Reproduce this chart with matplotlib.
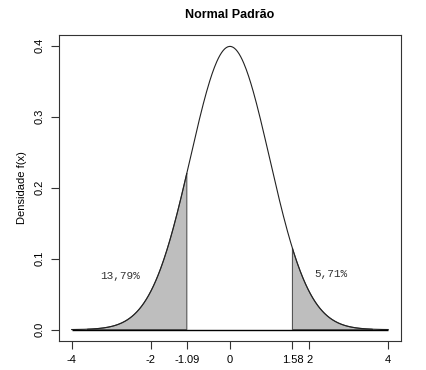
import numpy as np
import matplotlib
matplotlib.use('Agg')
import matplotlib.pyplot as plt

# cut points and tail areas
a_left = -1.09
a_right = 1.58
txt_left = '13,79%'
txt_right = '5,71%'
xticks = [-4, -2, -1.09, 0, 1.58, 2, 4]
xtick_labels = ['-4', '-2', '-1.09', '0', '1.58', '2', '4']
yticks = [0.0, 0.1, 0.2, 0.3, 0.4]


def dnorm(x):
    return np.exp(-x ** 2 / 2) / np.sqrt(2 * np.pi)


plt.rcParams['font.family'] = ['Liberation Sans', 'DejaVu Sans']

fig = plt.figure(figsize=(4.26, 3.70), dpi=100)
ax = fig.add_axes([0.1385, 0.0784, 0.8025, 0.827])

x = np.linspace(-4, 4, 400)
ax.plot(x, dnorm(x), color='#222222', lw=0.8, zorder=3)

# shaded tails
xl = np.linspace(-3.6, a_left, 200)
ax.fill(np.r_[xl, a_left, -3.6], np.r_[dnorm(xl), 0, 0],
        facecolor='#bebebe', edgecolor='#555555', lw=0.8, zorder=2)
xr = np.linspace(a_right, 3.6, 200)
ax.fill(np.r_[a_right, xr, 3.6], np.r_[0, dnorm(xr), 0],
        facecolor='#bebebe', edgecolor='#555555', lw=0.8, zorder=2)

ax.hlines(0, -4, 4, color='black', lw=1.0, zorder=4)

ax.text(-2.78, 0.075, txt_left, family='Liberation Mono', fontsize=8,
        color='#333333', ha='center', va='center')
ax.text(2.55, 0.078, txt_right, family='Liberation Mono', fontsize=8,
        color='#333333', ha='center', va='center')

ax.set_xlim(-4.32, 4.32)
ax.set_ylim(-0.016, 0.415)
ax.set_xticks(xticks)
ax.set_xticklabels(xtick_labels, fontsize=8)
ax.set_yticks(yticks)
ax.set_yticklabels(['0.0', '0.1', '0.2', '0.3', '0.4'], fontsize=8,
                   rotation=90, va='center')
ax.tick_params(direction='out', length=6, width=0.8, color='#333333')
ax.tick_params(axis='x', pad=4)
ax.tick_params(axis='y', pad=4)
for s in ax.spines.values():
    s.set_linewidth(0.8)
    s.set_color('#333333')

ax.set_ylabel('Densidade f(x)', fontsize=8, labelpad=6)
ax.set_title('Normal Padrão', fontsize=9, fontweight='bold', pad=12)

fig.savefig('out.png', dpi=100)
